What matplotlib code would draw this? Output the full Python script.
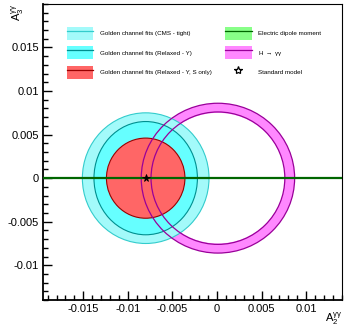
import matplotlib
matplotlib.use("Agg")
import matplotlib.pyplot as plt
from matplotlib.patches import Ellipse, Annulus, Patch
from matplotlib.lines import Line2D
from matplotlib.legend_handler import HandlerTuple
from matplotlib.ticker import MultipleLocator

plt.rcParams["font.family"] = ["Liberation Sans", "DejaVu Sans"]
plt.rcParams["mathtext.fontset"] = "custom"
plt.rcParams["mathtext.rm"] = "Liberation Sans"
plt.rcParams["mathtext.it"] = "Liberation Sans"

# ---------------------------------------------------------------------------
# Data
# ---------------------------------------------------------------------------
golden_center = (-0.008, 0.0)
# (rx, ry) of the golden channel fit regions
cms_tight = (0.0071, 0.0075)
relaxed_y = (0.0058, 0.0065)
relaxed_y_s = (0.0044, 0.0046)

hgg_center = (0.0001, 0.0)
hgg_outer = (0.0086, 0.0086)
hgg_inner = (0.0075, 0.0076)

edm_a3 = 0.0
sm_point = (-0.008, 0.0)

x_range = (-0.0195, 0.014)
y_range = (-0.014, 0.02)
x_ticks = [-0.015, -0.01, -0.005, 0, 0.005, 0.01]
x_tick_labels = ["-0.015", "-0.01", "-0.005", "0", "0.005", "0.01"]
y_ticks = [-0.01, -0.005, 0, 0.005, 0.01, 0.015]
y_tick_labels = ["-0.01", "-0.005", "0", "0.005", "0.01", "0.015"]

labels = [
    "Golden channel fits (CMS - tight)",
    "Golden channel fits (Relaxed - Y)",
    "Golden channel fits (Relaxed - Y, S only)",
    "Electric dipole moment",
    "H $\\rightarrow$ $\\gamma\\gamma$",
    "Standard model",
]

# colours
c_tight, e_tight = "#a3fafa", "#33cccc"
c_relax, e_relax = "#66ffff", "#008f8f"
c_red, e_red = "#ff6666", "#990000"
c_hgg, e_hgg = "#ff88ff", "#990099"
c_edm, e_edm = "#88ff88", "#006600"

fig = plt.figure(figsize=(3.45, 3.28), dpi=100)
ax = fig.add_axes([0.125, 0.085, 0.866, 0.903])

# H -> gamma gamma ring fill (below the golden regions)
ring = Annulus(hgg_center, hgg_outer, hgg_outer[0] - hgg_inner[0],
               facecolor=c_hgg, edgecolor="none", zorder=1)
ax.add_patch(ring)

for (rx, ry), fc, ec, z in [(cms_tight, c_tight, e_tight, 2),
                            (relaxed_y, c_relax, e_relax, 3),
                            (relaxed_y_s, c_red, e_red, 4)]:
    ax.add_patch(Ellipse(golden_center, 2 * rx, 2 * ry, facecolor=fc,
                         edgecolor=ec, linewidth=0.8, zorder=z))

# ring outlines on top
for rx, ry in [hgg_outer, hgg_inner]:
    ax.add_patch(Ellipse(hgg_center, 2 * rx, 2 * ry, facecolor="none",
                         edgecolor=e_hgg, linewidth=0.9, zorder=5))

ax.axhline(edm_a3, color=e_edm, linewidth=1.6, zorder=6)
ax.plot(sm_point[0], sm_point[1], marker="*", markersize=5.5,
        markerfacecolor="black", markeredgecolor="black", markeredgewidth=0.6,
        linestyle="none", zorder=7)

ax.set_xlim(*x_range)
ax.set_ylim(*y_range)
ax.set_xticks(x_ticks)
ax.set_xticklabels(x_tick_labels)
ax.set_yticks(y_ticks)
ax.set_yticklabels(y_tick_labels)
ax.xaxis.set_minor_locator(MultipleLocator(0.001))
ax.yaxis.set_minor_locator(MultipleLocator(0.001))
ax.tick_params(which="both", direction="in", top=False, right=False,
               labelsize=8, pad=3)
ax.tick_params(which="major", length=6.5, width=1.0)
ax.tick_params(which="minor", length=3.5, width=1.0)
for side in ["left", "bottom"]:
    ax.spines[side].set_linewidth(1.3)
for side in ["top", "right"]:
    ax.spines[side].set_linewidth(0.8)

# axis titles, ROOT style at the ends of the axes
fig.text(0.991, 0.003, "A$_2^{\\gamma\\gamma}$", fontsize=8,
         ha="right", va="bottom")
fig.text(0.028, 0.988, "A$_3^{\\gamma\\gamma}$", fontsize=8,
         ha="left", va="top", rotation=90)

# legend
band = lambda fc, ec: (Patch(facecolor=fc, edgecolor="none"),
                       Line2D([0], [0], color=ec, linewidth=0.9))
handles = [
    band(c_tight, e_tight),
    band(c_relax, e_relax),
    band(c_red, e_red),
    band(c_edm, e_edm),
    band(c_hgg, e_hgg),
    Line2D([0], [0], marker="*", markersize=6, markerfacecolor="none",
           markeredgecolor="black", markeredgewidth=0.9, linestyle="none"),
]
ax.legend(handles, labels, ncol=2, frameon=False, loc="upper left",
          bbox_to_anchor=(0.072, 0.932), fontsize=4.5,
          handler_map={tuple: HandlerTuple(ndivide=1, pad=0)},
          handlelength=4.2, handleheight=2.9, labelspacing=1.0,
          handletextpad=1.0, columnspacing=2.2, borderaxespad=0)

fig.savefig("out.png", dpi=100)
